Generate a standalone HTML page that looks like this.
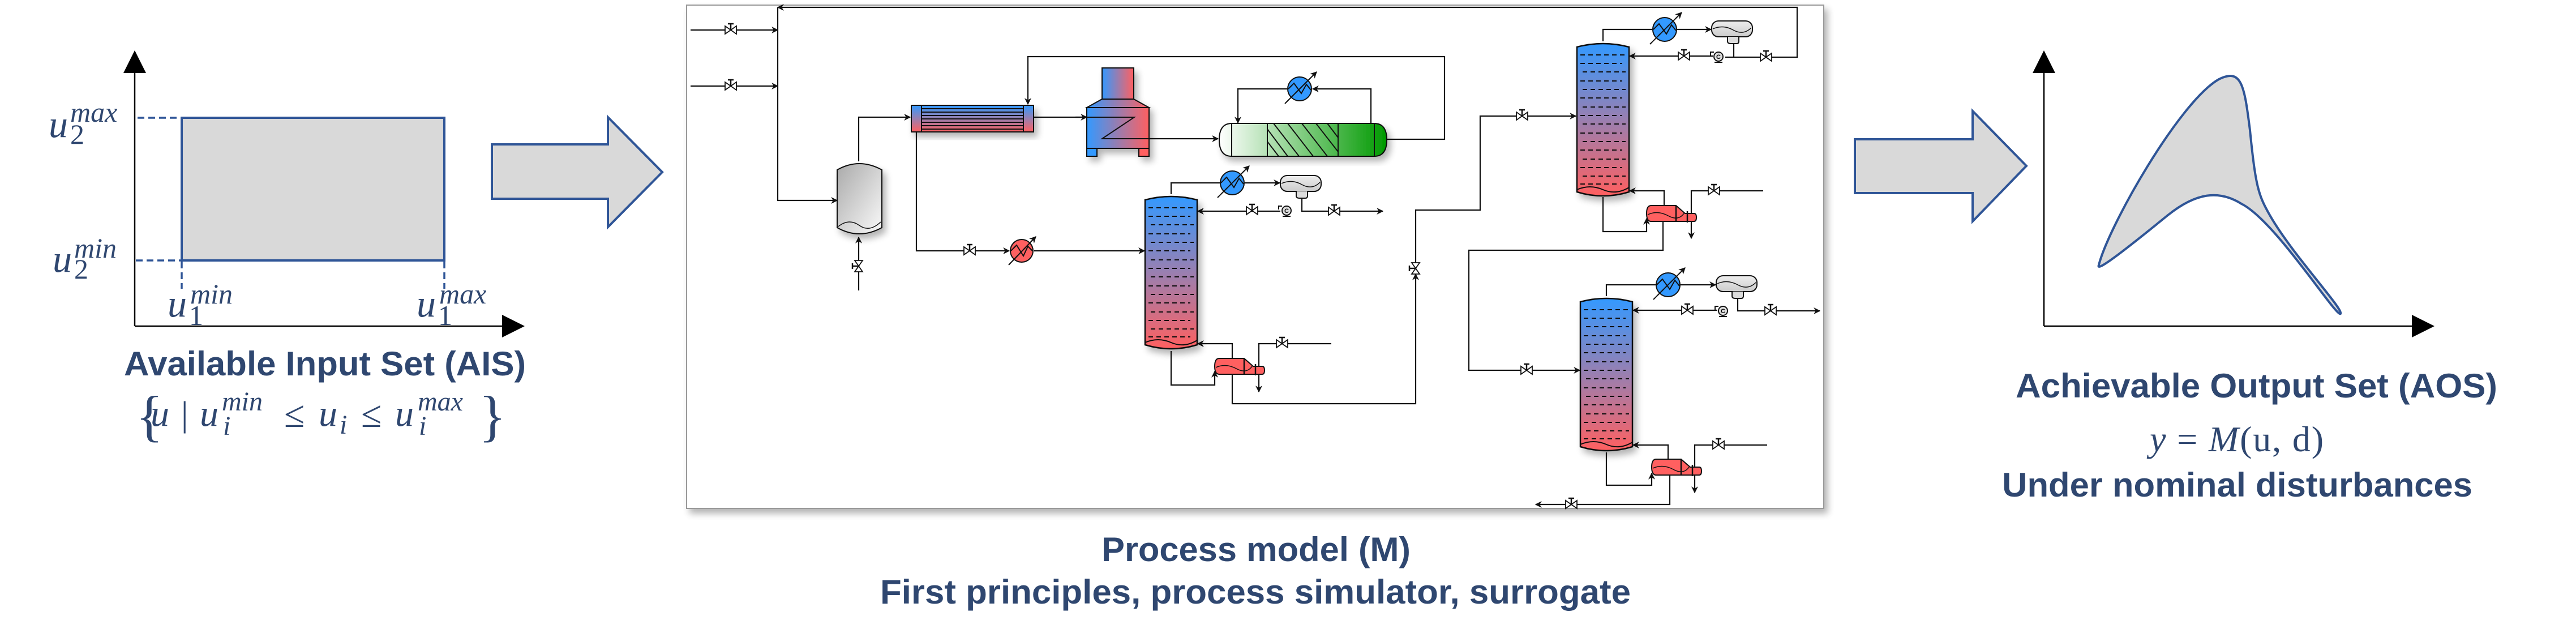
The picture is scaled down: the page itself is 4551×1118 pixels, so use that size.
<!DOCTYPE html>
<html><head><meta charset="utf-8"><style>
html,body{margin:0;padding:0;background:#fff;}
svg{display:block;}
.t{font-family:"Liberation Sans",sans-serif;font-weight:bold;fill:#2f4770;}
.m{font-family:"Liberation Serif",serif;font-style:italic;fill:#2f4770;}
.mr{font-family:"Liberation Serif",serif;fill:#2f4770;}
.ln{fill:none;stroke:#111;stroke-width:2.2;}
</style></head><body>
<svg width="4551" height="1118" viewBox="0 0 4551 1118" xmlns="http://www.w3.org/2000/svg">
<defs>
<marker id="a" viewBox="0 0 10 10" refX="9" refY="5" markerWidth="12" markerHeight="12" markerUnits="userSpaceOnUse" orient="auto"><path d="M0,0 L10,5 L0,10 L3,5 Z" fill="#111"/></marker>
<marker id="ab" viewBox="0 0 10 10" refX="9" refY="5" markerWidth="40" markerHeight="40" markerUnits="userSpaceOnUse" orient="auto"><path d="M0,0 L10,5 L0,10 Z" fill="#000"/></marker>
<linearGradient id="colg" x1="0" y1="0" x2="0" y2="1"><stop offset="0" stop-color="#3399ff"/><stop offset="0.5" stop-color="#9a7fb0"/><stop offset="1" stop-color="#ff6060"/></linearGradient>
<linearGradient id="hg" x1="0" y1="0" x2="1" y2="0"><stop offset="0" stop-color="#3399ff"/><stop offset="1" stop-color="#ff6060"/></linearGradient>
<linearGradient id="gry" x1="0" y1="0" x2="1" y2="1"><stop offset="0" stop-color="#aaa"/><stop offset="1" stop-color="#fafafa"/></linearGradient>
<linearGradient id="gry2" x1="0" y1="0" x2="0" y2="1"><stop offset="0" stop-color="#eee"/><stop offset="1" stop-color="#ccc"/></linearGradient>
<linearGradient id="grn" x1="0" y1="0" x2="1" y2="0"><stop offset="0" stop-color="#ffffff"/><stop offset="1" stop-color="#009900"/></linearGradient>
<filter id="sh" x="-20%" y="-20%" width="150%" height="150%"><feGaussianBlur in="SourceAlpha" stdDeviation="6"/><feOffset dx="6" dy="8"/><feComponentTransfer><feFuncA type="linear" slope="0.3"/></feComponentTransfer><feMerge><feMergeNode/><feMergeNode in="SourceGraphic"/></feMerge></filter>
<g id="col">
<path d="M0,10 Q46,-2 92,10 V266 Q46,280 0,266 Z" fill="url(#colg)" stroke="#111" stroke-width="2.5"/>
<g stroke="#111" stroke-width="2" stroke-dasharray="8,6" fill="none">
<path d="M6,24H86M6,39H80M10,54H86M6,70H80M10,85H86M6,100H80M10,116H86M6,131H80M10,146H86M6,162H80M10,177H86M6,192H80M10,208H86M6,223H80M10,238H86M6,252H80"/>
</g>
<path d="M0,262 Q23,252 46,262 T92,258" fill="none" stroke="#111" stroke-width="2"/>
</g>
<g id="v"><path d="M-10,-7 L10,7 L10,-7 L-10,7 Z" fill="#fff" stroke="#111" stroke-width="1.8"/><path d="M0,0V-10M-5,-11H5" stroke="#111" stroke-width="2.5"/></g>
<g id="vv"><path d="M-7,-10 L7,10 L-7,10 L7,-10 Z" fill="#fff" stroke="#111" stroke-width="1.8"/><path d="M0,0H-10M-11,-5V5" stroke="#111" stroke-width="2.5"/></g>
<g id="cond"><circle r="21" fill="#3399ff" stroke="#111" stroke-width="2"/><polyline points="-20,0 -10,-10 3,8 12,-8 20,2" fill="none" stroke="#111" stroke-width="2"/><line x1="-26" y1="26" x2="30" y2="-30" stroke="#111" stroke-width="2" marker-end="url(#a)"/></g>
<g id="drum"><rect x="0" y="0" width="72" height="28" rx="12" fill="url(#gry2)" stroke="#111" stroke-width="2"/><path d="M2,14 Q20,6 38,16 T70,12" fill="none" stroke="#111" stroke-width="1.5"/><path d="M28,28 V36 Q28,40 34,40 H44 Q48,40 48,36 V28" fill="#ddd" stroke="#111" stroke-width="2"/></g>
<g id="pump"><circle r="8" fill="#ddd" stroke="#111" stroke-width="2"/><path d="M-8,-8 H-14 V-2" fill="none" stroke="#111" stroke-width="2"/><path d="M-7,10 H7" stroke="#111" stroke-width="2"/><text x="-4" y="4" font-size="11" font-family="Liberation Sans" font-weight="bold">C</text></g>
<g id="reb"><path d="M8,0 H52 L68,14 H84 Q88,14 88,21 Q88,28 84,28 H8 Q0,28 0,14 Q0,0 8,0 Z" fill="#ff6060" stroke="#111" stroke-width="2"/><path d="M2,16 Q20,8 38,18 T66,14" fill="none" stroke="#111" stroke-width="1.5"/><path d="M52,0 V28M72,10 V30" stroke="#111" stroke-width="2.5"/></g>
</defs>

<!-- LEFT PANEL -->
<line x1="238" y1="576" x2="238" y2="93" stroke="#000" stroke-width="2.5" marker-end="url(#ab)"/>
<line x1="238" y1="576" x2="923" y2="576" stroke="#000" stroke-width="2.5" marker-end="url(#ab)"/>
<rect x="321" y="208" width="464" height="252" fill="#d9d9d9" stroke="#2f5597" stroke-width="4"/>
<g stroke="#2f5597" stroke-width="3.5" stroke-dasharray="12,7">
<line x1="243" y1="208" x2="321" y2="208"/><line x1="240" y1="460" x2="321" y2="460"/>
<line x1="321" y1="462" x2="321" y2="510"/><line x1="785" y1="462" x2="785" y2="510"/>
</g>
<text class="m" x="86" y="242" font-size="68">u</text><text class="m" x="124" y="215" font-size="50">max</text><text class="mr" x="124" y="254" font-size="50">2</text>
<text class="m" x="93" y="480" font-size="68">u</text><text class="m" x="131" y="455" font-size="50">min</text><text class="mr" x="131" y="492" font-size="50">2</text>
<text class="m" x="296" y="559" font-size="68">u</text><text class="m" x="336" y="536" font-size="50">min</text><text class="mr" x="334" y="574" font-size="50">1</text>
<text class="m" x="736" y="559" font-size="68">u</text><text class="m" x="776" y="536" font-size="50">max</text><text class="mr" x="774" y="574" font-size="50">1</text>
<text class="t" x="219" y="663" font-size="60" textLength="710" lengthAdjust="spacingAndGlyphs">Available Input Set (AIS)</text>
<text class="mr" x="240" y="768" font-size="100">{</text>
<text class="m" x="266" y="752" font-size="66">u</text>
<text class="mr" x="320" y="752" font-size="62">|</text>
<text class="m" x="353" y="752" font-size="66">u</text><text class="m" x="392" y="725" font-size="48">min</text><text class="m" x="394" y="768" font-size="48">i</text>
<text class="mr" x="502" y="754" font-size="66">≤</text>
<text class="m" x="563" y="752" font-size="66">u</text><text class="m" x="600" y="766" font-size="48">i</text>
<text class="mr" x="638" y="754" font-size="66">≤</text>
<text class="m" x="698" y="752" font-size="66">u</text><text class="m" x="738" y="725" font-size="48">max</text><text class="m" x="740" y="768" font-size="48">i</text>
<text class="mr" x="846" y="768" font-size="100">}</text>

<!-- arrow 1 -->
<path d="M869,255 H1074 V207 L1170,304 L1074,401 V351 H869 Z" fill="#d9d9d9" stroke="#2f5597" stroke-width="4"/>

<!-- MIDDLE FRAME -->
<rect x="1213" y="9" width="2009" height="889" fill="#fff" stroke="#999" stroke-width="2" filter="url(#sh)"/>
<g class="ln">
<path d="M1220,53 H1374" marker-end="url(#a)"/><path d="M1220,152 H1374" marker-end="url(#a)"/>
<path d="M3048,101 H3175 V13 H1374" marker-end="url(#a)"/>
<path d="M1374,13 V354 H1479" marker-end="url(#a)"/>
<path d="M1517,513 V419" marker-end="url(#a)"/>
<path d="M1517,285 V207 H1608" marker-end="url(#a)"/>
<path d="M1826,207 H1920" marker-end="url(#a)"/>
<path d="M1900,207 H2004 L1947,245 H2152" marker-end="url(#a)"/>
<path d="M2450,246 H2552 V100 H1816 V184" marker-end="url(#a)"/>
<path d="M2422,218 V157 H2319" marker-end="url(#a)"/>
<path d="M2274,157 H2187 V217" marker-end="url(#a)"/>
<path d="M1619,233 V443 H1783" marker-end="url(#a)"/>
<path d="M1827,443 H2022" marker-end="url(#a)"/>
<path d="M2069,343 V323 H2155"/><path d="M2199,323 H2261" marker-end="url(#a)"/>
<path d="M2300,350 V373 H2443" marker-end="url(#a)"/>
<path d="M2262,373 H2116" marker-end="url(#a)"/>
<path d="M2069,620 V680 H2146 V656" marker-end="url(#a)"/>
<path d="M2177,633 V607 H2116" marker-end="url(#a)"/>
<path d="M2352,607 H2224 V692" marker-end="url(#a)"/>
<path d="M2177,660 V713 H2501 V484" marker-end="url(#a)"/>
<path d="M2501,465 V371 H2615 V205 H2784" marker-end="url(#a)"/>
<path d="M2832,73 V52 H2919"/><path d="M2963,52 H3023" marker-end="url(#a)"/>
<path d="M3063,75 V101"/>
<path d="M3026,99 H2879" marker-end="url(#a)"/>
<path d="M2832,348 V409 H2909 V386" marker-end="url(#a)"/>
<path d="M2940,363 V337 H2879" marker-end="url(#a)"/>
<path d="M3115,337 H2988 V421" marker-end="url(#a)"/>
<path d="M2938,389 V442 H2595 V654 H2791" marker-end="url(#a)"/>
<path d="M2838,523 V503 H2925"/><path d="M2969,503 H3031" marker-end="url(#a)"/>
<path d="M3070,525 V549 H3215" marker-end="url(#a)"/>
<path d="M3034,548 H2885" marker-end="url(#a)"/>
<path d="M2838,799 V857 H2918 V836" marker-end="url(#a)"/>
<path d="M2947,811 V786 H2885" marker-end="url(#a)"/>
<path d="M3122,786 H2994 V870" marker-end="url(#a)"/>
<path d="M2950,839 V891 H2713" marker-end="url(#a)"/>
</g>
<g filter="url(#sh)">
<path d="M1479,300 Q1518,278 1558,300 V402 Q1518,424 1479,402 Z" fill="url(#gry)" stroke="#111" stroke-width="2"/>
</g>
<path d="M1481,400 Q1500,385 1518,398 T1556,392" fill="none" stroke="#111" stroke-width="1.5"/>
<g filter="url(#sh)">
<rect x="1610" y="186" width="216" height="47" fill="url(#colg)" stroke="#111" stroke-width="2"/>
</g>
<g stroke="#111" stroke-width="2"><path d="M1628,186V233M1808,186V233M1628,192H1808M1628,198H1808M1628,204H1808M1628,210H1808M1628,216H1808M1628,222H1808M1628,228H1808"/></g>
<g filter="url(#sh)">
<rect x="1947" y="120" width="56" height="55" fill="url(#hg)" stroke="#111" stroke-width="2"/>
<path d="M1947,175 H2003 L2030,190 H1920 Z" fill="url(#hg)" stroke="#111" stroke-width="2"/>
<rect x="1920" y="190" width="110" height="72" fill="url(#hg)" stroke="#111" stroke-width="2"/>
<rect x="1920" y="262" width="18" height="14" fill="#3399ff" stroke="#111" stroke-width="2"/>
<rect x="2012" y="262" width="18" height="14" fill="#ff6060" stroke="#111" stroke-width="2"/>
</g>
<path d="M1920,207 H2004 L1947,245 H2030" fill="none" stroke="#111" stroke-width="2"/>
<g filter="url(#sh)">
<path d="M2176,218 H2428 Q2450,218 2450,247 Q2450,276 2428,276 H2176 Q2154,276 2154,247 Q2154,218 2176,218 Z" fill="url(#grn)" stroke="#111" stroke-width="2"/>
</g>
<g stroke="#111" stroke-width="2" fill="none">
<path d="M2176,218V276M2239,218V276M2364,218V276M2428,218V276"/>
<path d="M2239,228 L2275,276 M2239,250 L2259,276 M2250,218 L2295,276 M2275,218 L2320,276 M2300,218 L2345,276 M2325,218 L2364,268 M2345,218 L2364,243"/>
</g>
<use href="#cond" x="2296" y="157"/>
<use href="#col" x="2023" y="343" filter="url(#sh)"/>
<use href="#col" x="2786" y="73" filter="url(#sh)"/>
<use href="#col" x="2792" y="523" filter="url(#sh)"/>
<use href="#cond" x="2177" y="323"/><use href="#cond" x="2941" y="52"/><use href="#cond" x="2947" y="503"/>
<use href="#drum" x="2262" y="310"/><use href="#drum" x="3024" y="37"/><use href="#drum" x="3032" y="487"/>
<use href="#pump" x="2273" y="372"/><use href="#pump" x="3036" y="100"/><use href="#pump" x="3044" y="549"/>
<use href="#reb" x="2146" y="633"/><use href="#reb" x="2909" y="363"/><use href="#reb" x="2918" y="811"/>
<g><circle cx="1805" cy="443" r="20" fill="#ff6060" stroke="#111" stroke-width="2"/><polyline points="1786,443 1796,433 1808,452 1816,435 1824,443" fill="none" stroke="#111" stroke-width="2"/><line x1="1782" y1="468" x2="1830" y2="418" stroke="#111" stroke-width="2" marker-end="url(#a)"/></g>
<use href="#v" x="1291" y="53"/><use href="#v" x="1291" y="152"/><use href="#vv" x="1517" y="470"/>
<use href="#v" x="1713" y="443"/><use href="#v" x="2212" y="372"/><use href="#v" x="2357" y="373"/>
<use href="#v" x="2265" y="607"/><use href="#vv" x="2501" y="474"/><use href="#v" x="2689" y="205"/>
<use href="#v" x="2975" y="99"/><use href="#v" x="3120" y="101"/><use href="#v" x="3028" y="337"/>
<use href="#v" x="2697" y="654"/><use href="#v" x="2981" y="548"/><use href="#v" x="3128" y="549"/>
<use href="#v" x="3036" y="786"/><use href="#v" x="2776" y="891"/>
<text class="t" x="1946" y="991" font-size="60" textLength="546" lengthAdjust="spacingAndGlyphs">Process model (M)</text>
<text class="t" x="1555" y="1066" font-size="60" textLength="1326" lengthAdjust="spacingAndGlyphs">First principles, process simulator, surrogate</text>

<path d="M3277,246 H3485 V196 L3580,293 L3485,391 V341 H3277 Z" fill="#d9d9d9" stroke="#2f5597" stroke-width="4"/>

<line x1="3611" y1="576" x2="3611" y2="93" stroke="#000" stroke-width="2.5" marker-end="url(#ab)"/>
<line x1="3611" y1="576" x2="4297" y2="576" stroke="#000" stroke-width="2.5" marker-end="url(#ab)"/>
<path d="M3708,468 C3725,400 3850,180 3920,140 C3960,120 3965,150 3975,230 C3985,330 3990,345 4010,380 C4050,450 4140,545 4135,554 C4128,562 4020,390 3960,360 C3920,335 3880,340 3830,380 C3750,445 3702,482 3708,468 Z" fill="#d9d9d9" stroke="#2f5597" stroke-width="4"/>
<text class="t" x="3561" y="702" font-size="60" textLength="851" lengthAdjust="spacingAndGlyphs">Achievable Output Set (AOS)</text>
<text x="3798" y="797" font-size="64" class="mr" textLength="307"><tspan class="m">y</tspan> = <tspan class="m">M</tspan>(u, d)</text>
<text class="t" x="3537" y="877" font-size="60" textLength="831" lengthAdjust="spacingAndGlyphs">Under nominal disturbances</text>
</svg>
</body></html>
